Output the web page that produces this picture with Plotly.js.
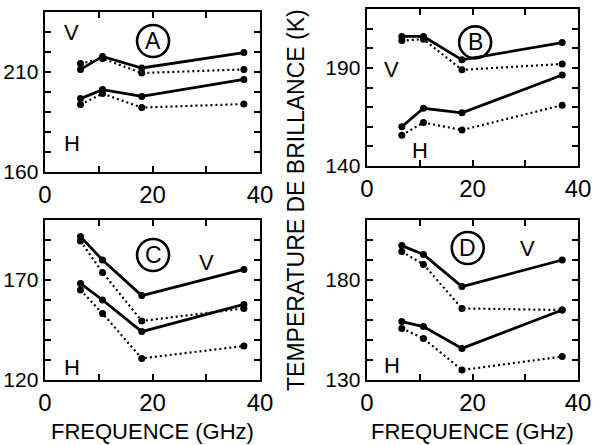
<!DOCTYPE html>
<html>
<head>
<meta charset="utf-8">
<script src="https://cdn.plot.ly/plotly-3.0.1.min.js"></script>
<style>
  html, body { margin: 0; padding: 0; background: #fff; }
  #chart { width: 595px; height: 445px; }
</style>
</head>
<body>
<div id="chart"></div>
<script>
// Radiometer channels (GHz)
const freq = [6.6, 10.7, 18, 37];

// Panel A
const aVsolid = [211.3, 217.8, 212.0, 219.7];
const aVdot   = [214.2, 216.7, 209.5, 211.3];
const aHsolid = [196.7, 201.2, 197.8, 206.3];
const aHdot   = [193.7, 199.2, 192.2, 194.0];

// Panel B
const bVsolid = [206.0, 206.0, 194.1, 202.9];
const bVdot   = [203.9, 204.6, 189.0, 192.0];
const bHsolid = [160.0, 169.4, 167.1, 186.4];
const bHdot   = [155.7, 162.2, 158.3, 171.0];

// Panel C
const cVsolid = [191.7, 180.0, 162.2, 175.3];
const cVdot   = [189.5, 173.8, 149.5, 155.8];
const cHsolid = [168.3, 160.0, 144.2, 157.8];
const cHdot   = [165.0, 153.3, 130.8, 137.0];

// Panel D
const dVsolid = [197.2, 192.8, 176.7, 190.0];
const dVdot   = [194.2, 187.8, 165.8, 165.0];
const dHsolid = [159.2, 156.7, 145.8, 165.0];
const dHdot   = [155.8, 150.8, 135.0, 141.7];

const panelNames = ['A', 'B', 'C', 'D'];
const yRanges = [[160, 240], [140, 220], [120, 200], [130, 210]];
const yLabels = [[160, 210], [140, 190], [120, 170], [130, 180]];
const xLabels = [0, 20, 40];
const xTitle = 'FREQUENCE (GHz)';
const yTitle = 'TEMPERATURE DE BRILLANCE (K)';

// letter / V / H label positions in data units for each panel
const letterPos = [[20.1, 225.5], [20.5, 203], [20.1, 182.5], [19.1, 196]];
const vPos = [[5, 230], [4.7, 189], [30.1, 179], [30.5, 196]];
const hPos = [[5, 174.5], [10, 148], [5, 126.5], [4.7, 137.5]];

const series = [
  [aVsolid, aVdot, aHsolid, aHdot],
  [bVsolid, bVdot, bHsolid, bHdot],
  [cVsolid, cVdot, cHsolid, cHdot],
  [dVsolid, dVdot, dHsolid, dHdot]
];

const W = 595, H = 445;
// plot boxes in pixels: [left, right, top, bottom]
const boxes = [
  [45, 260, 12, 172],
  [367, 578, 9, 166],
  [45, 260, 220, 380],
  [367, 578, 220, 380]
];

const FONT = 'Liberation Sans, Arial, sans-serif';
const traces = [];
const layout = {
  width: W, height: H,
  margin: {l: 0, r: 0, t: 0, b: 0},
  paper_bgcolor: '#fff', plot_bgcolor: '#fff',
  showlegend: false,
  font: {family: FONT, color: '#000'},
  annotations: [],
  shapes: []
};

function range10(a, b) { const v = []; for (let t = a; t <= b; t += 10) v.push(t); return v; }

series.forEach((set, i) => {
  const n = i === 0 ? '' : String(i + 1);
  const xa = 'x' + n, ya = 'y' + n;
  set.forEach((vals, k) => {
    const dotted = k % 2 === 1;
    traces.push({
      x: freq, y: vals, xaxis: xa, yaxis: ya,
      mode: 'lines+markers', type: 'scatter',
      line: {color: '#000', width: dotted ? 2.2 : 2.8, dash: dotted ? '2px,3px' : 'solid'},
      marker: {color: '#000', size: 7},
      hoverinfo: 'skip'
    });
  });
  const b = boxes[i];
  const yv = range10(yRanges[i][0], yRanges[i][1]);
  const xv = range10(0, 40);
  layout['xaxis' + n] = {
    domain: [b[0] / W, b[1] / W], anchor: ya, range: [0, 40],
    tickvals: xv, ticktext: xv.map(v => xLabels.includes(v) ? String(v) : ''),
    ticks: 'inside', ticklen: 6, tickwidth: 2, tickcolor: '#000',
    showline: true, linewidth: 2.4, linecolor: '#000', mirror: 'ticks',
    showgrid: false, zeroline: false, fixedrange: true,
    tickfont: {size: 24, family: FONT, color: '#000'}
  };
  layout['yaxis' + n] = {
    domain: [1 - b[3] / H, 1 - b[2] / H], anchor: xa, range: yRanges[i],
    tickvals: yv, ticktext: yv.map(v => yLabels[i].includes(v) ? String(v) : ''),
    ticks: 'inside', ticklen: 6, tickwidth: 2, tickcolor: '#000',
    showline: true, linewidth: 2.4, linecolor: '#000', mirror: 'ticks',
    showgrid: false, zeroline: false, fixedrange: true,
    tickfont: {size: 21, family: FONT, color: '#000'}
  };
  // x-axis title under the bottom row
  if (i >= 2) {
    layout.annotations.push({
      x: (b[0] + b[1]) / 2 / W, y: 1 - 431 / H, xref: 'paper', yref: 'paper',
      text: xTitle, showarrow: false, xanchor: 'center', yanchor: 'middle',
      font: {size: 22, family: FONT, color: '#000'}
    });
  }
  // circled panel letter
  layout.annotations.push({
    x: letterPos[i][0], y: letterPos[i][1], xref: xa, yref: ya,
    text: panelNames[i], showarrow: false,
    font: {size: 23, family: FONT, color: '#000'}
  });
  layout.shapes.push({
    type: 'circle', xref: xa, yref: ya,
    xsizemode: 'pixel', ysizemode: 'pixel',
    xanchor: letterPos[i][0], yanchor: letterPos[i][1],
    x0: -16, x1: 16, y0: -16, y1: 16,
    line: {color: '#000', width: 2.6}
  });
  layout.annotations.push({
    x: vPos[i][0], y: vPos[i][1], xref: xa, yref: ya,
    text: 'V', showarrow: false, font: {size: 22, family: FONT, color: '#000'}
  });
  layout.annotations.push({
    x: hPos[i][0], y: hPos[i][1], xref: xa, yref: ya,
    text: 'H', showarrow: false, font: {size: 22, family: FONT, color: '#000'}
  });
});

// shared vertical title between the two columns
layout.annotations.push({
  x: 296 / W, y: 1 - 200 / H, xref: 'paper', yref: 'paper',
  text: yTitle, textangle: -90, showarrow: false,
  xanchor: 'center', yanchor: 'middle',
  font: {size: 23, family: FONT, color: '#000'}
});

Plotly.newPlot('chart', traces, layout, {staticPlot: true, displayModeBar: false});
</script>
</body>
</html>
